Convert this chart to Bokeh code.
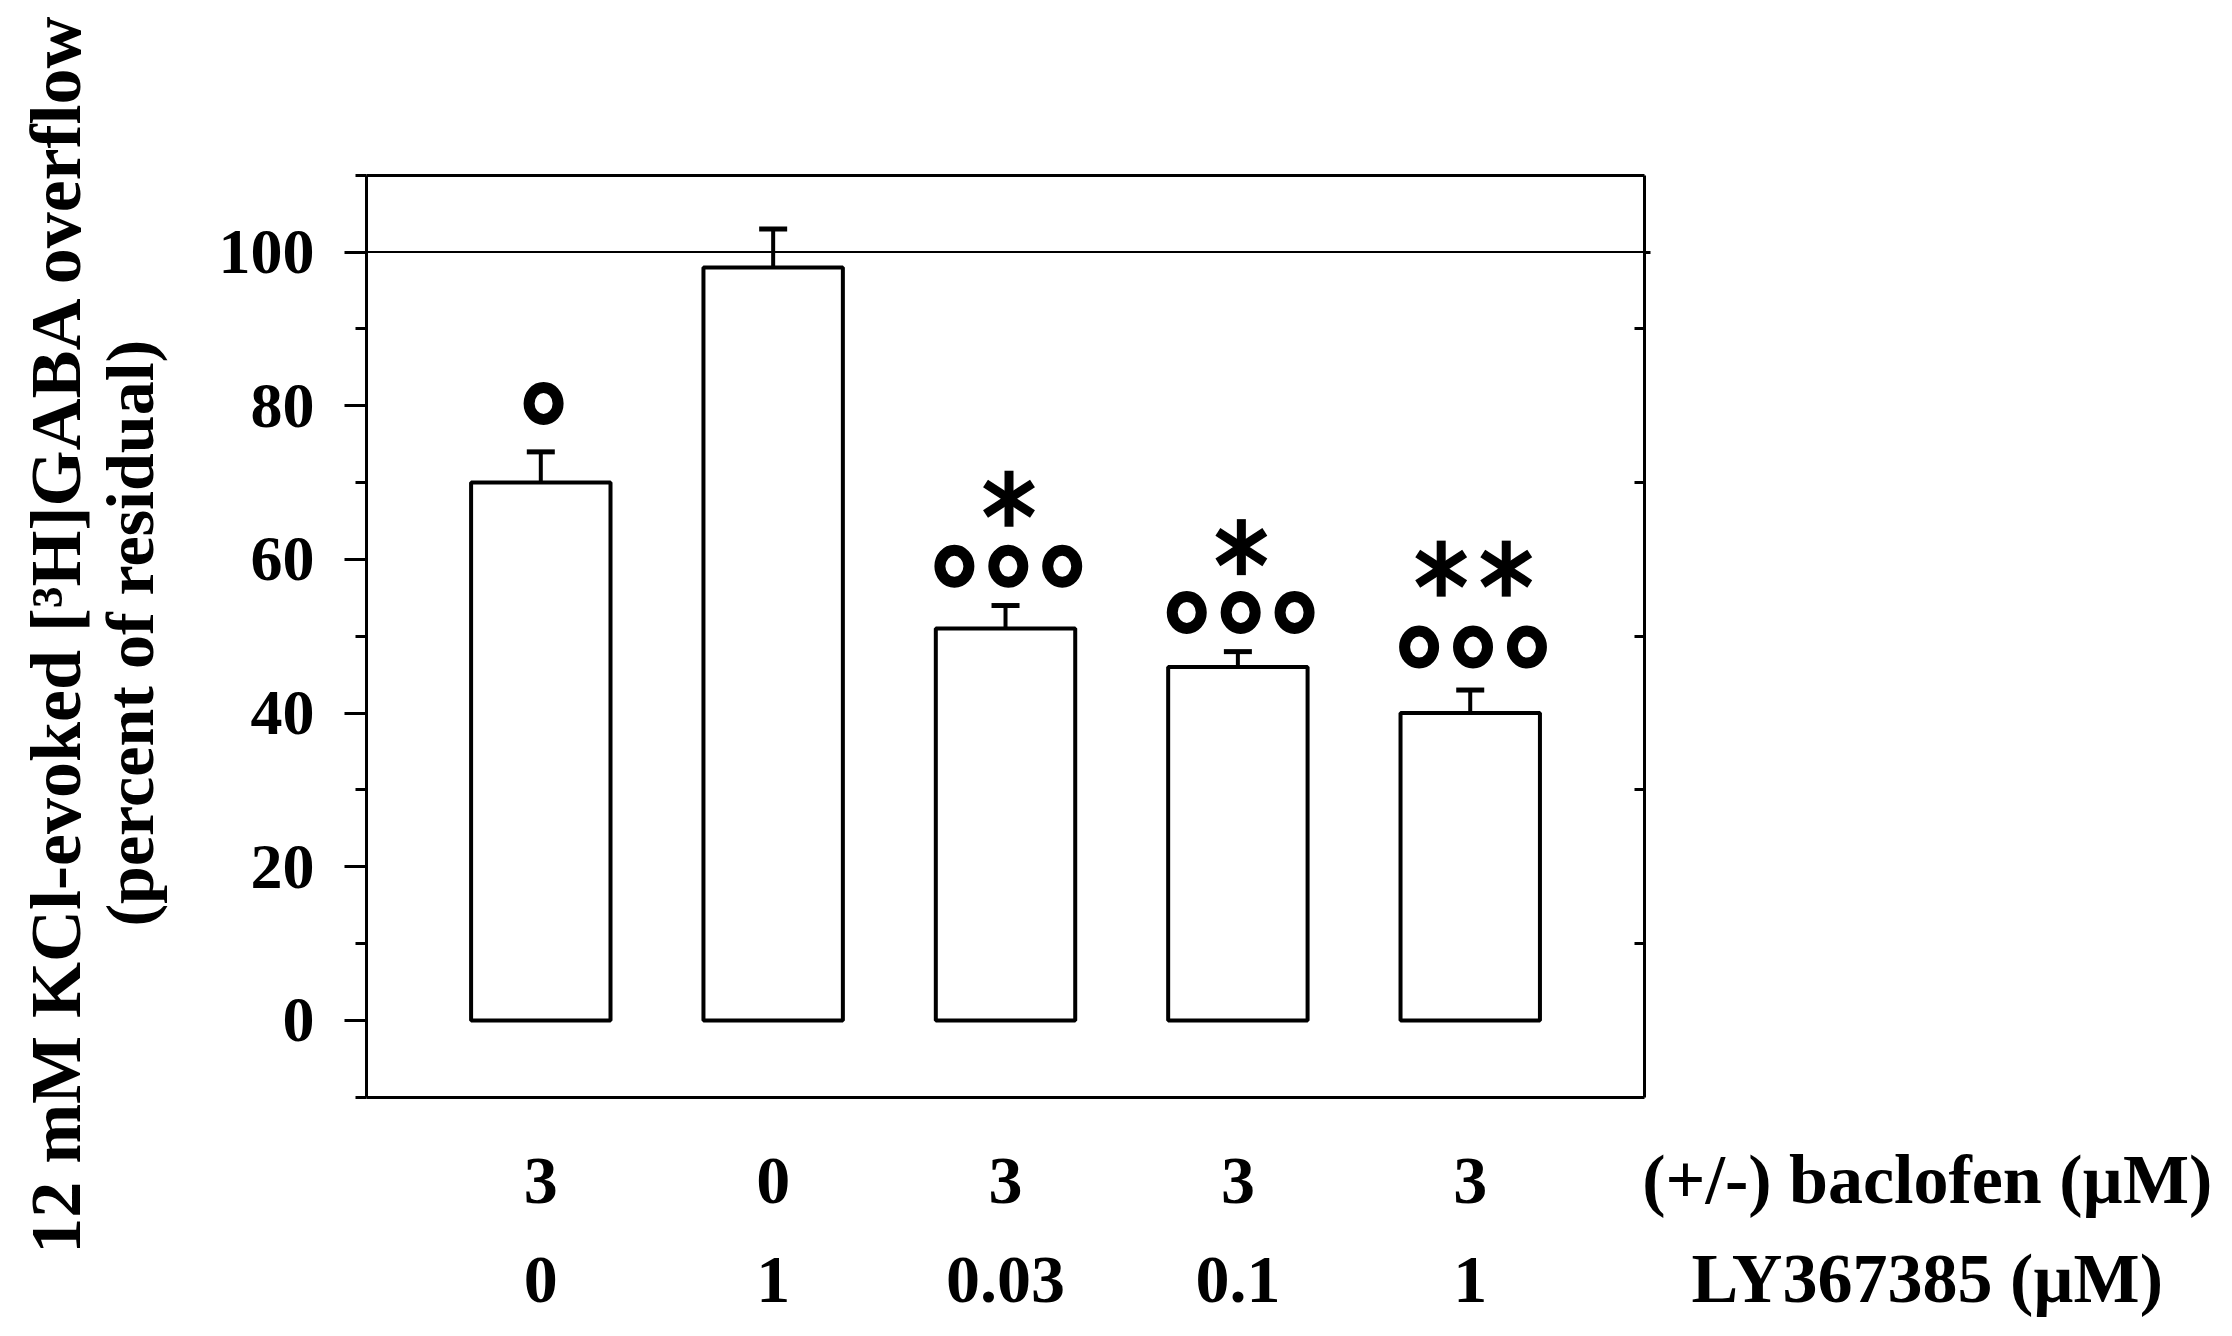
import math
from bokeh.plotting import figure
from bokeh.models import (ColumnDataSource, Range1d, LinearAxis, FixedTicker,
                          Whisker, TeeHead, LabelSet)
from bokeh.embed import file_html
from bokeh.resources import INLINE
from bokeh.core.properties import value

# ---------------- data ----------------
groups = [1, 2, 3, 4, 5]
release = [70, 98, 51, 46, 40]          # % of residual
sem = [4, 5, 3, 2, 3]
baclofen = ["3", "0", "3", "3", "3"]
ly367385 = ["0", "1", "0.03", "0.1", "1"]
circle_counts = [1, 0, 3, 3, 3]          # "o" significance marks
circle_levels = [80.3, 0, 59.1, 53.1, 48.6]
star_counts = [0, 0, 1, 1, 2]            # "*" significance marks
star_levels = [0, 0, 67.9, 61.6, 58.8]
y_ticks = [0, 20, 40, 60, 80, 100]
y_minor = [-10, 10, 30, 50, 70, 90, 110]
right_minor = [10, 30, 50, 70, 90]
ref_level = 100
row_names = ["(+/-) baclofen (µM)", "LY367385 (µM)"]
y_title = ["12 mM KCl-evoked [³H]GABA overflow", "(percent of residual)"]

X_LIM = (0.25, 5.75)     # plotted box
Y_LIM = (-10, 110)

FONT = "Liberation Serif"
W, H = 2216, 1320

# the frame spans the whole canvas; the box is drawn with fixed-location axes
p = figure(width=W, height=H, x_range=Range1d(-1.3253, 8.2117), y_range=Range1d(-39.06, 132.75),
           output_backend="svg", toolbar_location=None, x_axis_location=None,
           y_axis_location=None, min_border=0)
p.title.visible = False
p.xgrid.visible = False
p.ygrid.visible = False
p.background_fill_color = "white"
p.border_fill_color = "white"
p.outline_line_color = None


def box_axis(loc, side, **kw):
    ax = LinearAxis(fixed_location=loc, axis_line_width=3, axis_line_color="black",
                    major_tick_line_width=3, minor_tick_line_width=3, **kw)
    p.add_layout(ax, side)
    return ax


box_axis(X_LIM[0], "left", bounds=Y_LIM,
         ticker=FixedTicker(ticks=y_ticks, minor_ticks=y_minor),
         major_tick_out=22, major_tick_in=0, minor_tick_out=11, minor_tick_in=0,
         major_label_text_font=FONT, major_label_text_font_style="bold",
         major_label_text_font_size="64px", major_label_text_color="black",
         major_label_standoff=30)
box_axis(X_LIM[1], "right", bounds=Y_LIM,
         ticker=FixedTicker(ticks=[ref_level], minor_ticks=right_minor),
         major_label_overrides={ref_level: ""}, major_tick_in=0, major_tick_out=6,
         minor_tick_in=10, minor_tick_out=0)
box_axis(Y_LIM[1], "above", bounds=X_LIM, ticker=FixedTicker(ticks=[]),
         major_tick_out=0, minor_tick_out=0)
box_axis(Y_LIM[0], "below", bounds=X_LIM, ticker=FixedTicker(ticks=[]),
         major_tick_out=0, minor_tick_out=0)

p.segment(x0=[X_LIM[0]], x1=[X_LIM[1]], y0=[ref_level], y1=[ref_level],
          line_color="black", line_width=2)

src = ColumnDataSource(dict(x=groups, top=release,
                            upper=[v + e for v, e in zip(release, sem)],
                            bac=baclofen, ly=ly367385))

p.add_layout(Whisker(source=src, base="x", lower="top", upper="upper", line_width=4,
                     line_color="black", lower_head=None,
                     upper_head=TeeHead(size=28, line_width=5, line_color="black")))

p.vbar(x="x", top="top", bottom=0, width=0.6, source=src, fill_color="white",
       line_color="black", line_width=4)

# significance circles
cx, cy = [], []
for g, n, lev in zip(groups, circle_counts, circle_levels):
    for k in range(n):
        cx.append(g + 0.012 + (k - (n - 1) / 2) * 0.232)
        cy.append(lev)
p.ellipse(x=cx, y=cy, width=29, height=32, width_units="screen", height_units="screen",
          fill_color=None, line_color="black", line_width=11)

# asterisks (three strokes each)
sx, sy, sa = [], [], []
for g, n, lev in zip(groups, star_counts, star_levels):
    for k in range(n):
        xx = g + 0.015 + (k - (n - 1) / 2) * 0.28
        for a in (math.pi / 2, 0.576, -0.576):
            sx.append(xx)
            sy.append(lev)
            sa.append(a)
p.scatter(x=sx, y=sy, angle=sa, marker="dash", size=56, line_color="black", line_width=9)


def labels(source, text, size, angle=0.0):
    p.add_layout(LabelSet(x="x", y="y", text=text, source=source, angle=angle,
                          text_align="center", text_baseline="alphabetic",
                          text_font=value(FONT), text_font_style="bold",
                          text_font_size=size, text_color="black"))


# condition rows below the plot
row_levels = (-23.8, -36.7)
for vals, ylev in zip((baclofen, ly367385), row_levels):
    labels(ColumnDataSource(dict(x=groups, y=[ylev] * len(groups), t=vals)), "t", "68px")
labels(ColumnDataSource(dict(x=[6.967, 6.967], y=list(row_levels), t=row_names)), "t", "70px")

# y-axis title (two rotated lines)
for txt, xx, fs in zip(y_title, (-0.981, -0.671), ("72px", "68px")):
    labels(ColumnDataSource(dict(x=[xx], y=[50.4], t=[txt])), "t", fs, angle=math.pi / 2)

open("out.html", "w").write(file_html(p, INLINE))
